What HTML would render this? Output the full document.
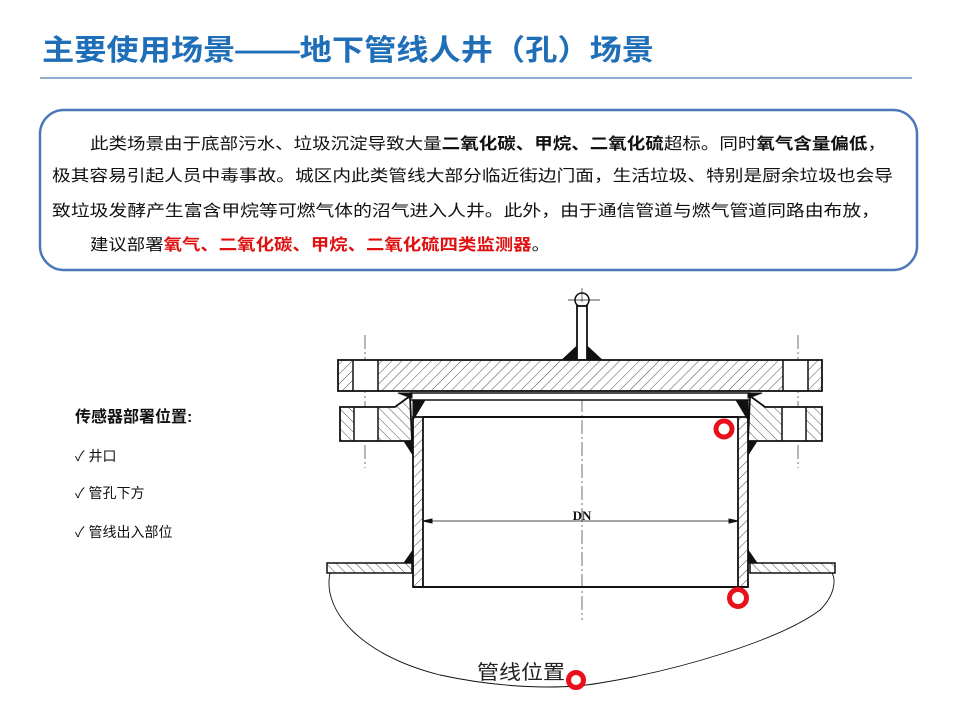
<!DOCTYPE html>
<html><head><meta charset="utf-8"><style>
html,body{margin:0;padding:0;background:#fff;width:960px;height:720px;overflow:hidden}
text{font-family:"Liberation Sans","Noto Sans CJK SC",sans-serif}
</style></head><body>
<svg width="960" height="720" viewBox="0 0 960 720" xmlns="http://www.w3.org/2000/svg">
<defs>
<pattern id="h" width="7" height="7" patternUnits="userSpaceOnUse" patternTransform="rotate(45)">
<rect width="7" height="7" fill="#fff"/><line x1="0" y1="0" x2="0" y2="7" stroke="#222" stroke-width="0.8"/>
</pattern>
<pattern id="h2" width="7" height="7" patternUnits="userSpaceOnUse" patternTransform="rotate(-45)">
<rect width="7" height="7" fill="#fff"/><line x1="0" y1="0" x2="0" y2="7" stroke="#222" stroke-width="0.8"/>
</pattern>
</defs>
<text x="42" y="60" font-size="29" font-weight="bold" fill="#1f6fb8" textLength="612" lengthAdjust="spacingAndGlyphs">主要使用场景——地下管线人井（孔）场景</text>
<line x1="40" y1="78" x2="912" y2="78" stroke="#4a7fb5" stroke-width="1.2"/>
<rect x="40" y="110" width="877" height="160" rx="24" fill="#fff" stroke="#4b78b8" stroke-width="2.5"/>
<g font-size="16" fill="#111">
<text x="90" y="149" textLength="796" lengthAdjust="spacingAndGlyphs">此类场景由于底部污水、垃圾沉淀导致大量<tspan font-weight="bold">二氧化碳、甲烷、二氧化硫</tspan>超标。同时<tspan font-weight="bold">氧气含量偏低</tspan>，</text>
<text x="52" y="181" textLength="841" lengthAdjust="spacingAndGlyphs">极其容易引起人员中毒事故。城区内此类管线大部分临近街边门面，生活垃圾、特别是厨余垃圾也会导</text>
<text x="52" y="216" textLength="828" lengthAdjust="spacingAndGlyphs">致垃圾发酵产生富含甲烷等可燃气体的沼气进入人井。此外，由于通信管道与燃气管道同路由布放，</text>
<text x="90" y="250" textLength="460" lengthAdjust="spacingAndGlyphs">建议部署<tspan font-weight="bold" fill="#e01010">氧气、二氧化碳、甲烷、二氧化硫四类监测器</tspan>。</text>
</g>
<text x="75" y="422" font-size="16" font-weight="bold" fill="#111">传感器部署位置:</text>
<g font-size="14" fill="#111">
<text x="75" y="461">✓ 井口</text>
<text x="75" y="498">✓ 管孔下方</text>
<text x="75" y="537">✓ 管线出入部位</text>
</g>
<g stroke="#111" fill="none">
<line x1="582" y1="288" x2="582" y2="620" stroke-width="0.6" stroke-dasharray="14,3,2,3"/>
<line x1="365" y1="335" x2="365" y2="468" stroke-width="0.6" stroke-dasharray="14,3,2,3"/>
<line x1="798" y1="335" x2="798" y2="468" stroke-width="0.6" stroke-dasharray="14,3,2,3"/>
<circle cx="582" cy="300" r="7" stroke-width="1.5"/>
<line x1="568" y1="300" x2="600" y2="300" stroke-width="0.7"/>
<rect x="577" y="306" width="10" height="54" fill="#fff" stroke-width="1.8"/>
<path d="M562 360 L577 346 L577 360 Z M602 360 L587 346 L587 360Z" fill="#111"/>
<rect x="338" y="360" width="484" height="31" fill="url(#h)" stroke-width="1.8"/>
<rect x="353" y="361" width="25" height="29" fill="#fff" stroke="none"/>
<rect x="783" y="361" width="25" height="29" fill="#fff" stroke="none"/>
<line x1="353" y1="360" x2="353" y2="391" stroke-width="1.5"/><line x1="378" y1="360" x2="378" y2="391" stroke-width="1.5"/>
<line x1="783" y1="360" x2="783" y2="391" stroke-width="1.5"/><line x1="808" y1="360" x2="808" y2="391" stroke-width="1.5"/>
<rect x="410" y="393" width="340" height="7" fill="#fff" stroke-width="1.5"/>
<path d="M398 393 L412 393 L412 398 Z M762 393 L748 393 L748 398Z" fill="#111"/>
<path d="M340 407 L395 407 L410 396 L412 441 L340 441 Z" fill="url(#h2)" stroke-width="1.8"/>
<path d="M822 407 L765 407 L750 396 L748 441 L822 441 Z" fill="url(#h2)" stroke-width="1.8"/>
<rect x="354" y="408" width="24" height="32" fill="#fff" stroke="none"/>
<rect x="782" y="408" width="24" height="32" fill="#fff" stroke="none"/>
<line x1="354" y1="407" x2="354" y2="441" stroke-width="1.5"/><line x1="378" y1="407" x2="378" y2="441" stroke-width="1.5"/>
<line x1="782" y1="407" x2="782" y2="441" stroke-width="1.5"/><line x1="806" y1="407" x2="806" y2="441" stroke-width="1.5"/>
<rect x="413" y="417" width="10" height="170" fill="url(#h)" stroke-width="1.8"/>
<rect x="738" y="417" width="10" height="170" fill="url(#h)" stroke-width="1.8"/>
<line x1="423" y1="417" x2="738" y2="417" stroke-width="2"/>
<line x1="413" y1="587" x2="748" y2="587" stroke-width="2"/>
<path d="M413 400 L413 420 L425 400Z M748 400 L748 420 L736 400Z" fill="#111"/>
<path d="M413 441 L404 441 L413 455Z M748 441 L757 441 L748 455Z M413 550 L404 563 L413 563Z M748 550 L757 563 L748 563Z" fill="#111"/>
<line x1="423" y1="521" x2="738" y2="521" stroke-width="0.8"/>
<path d="M423 521 L432 519 L432 523Z M738 521 L729 519 L729 523Z" fill="#111"/>
<rect x="327" y="563" width="85" height="10" fill="url(#h2)" stroke-width="1.5"/>
<rect x="750" y="563" width="85" height="10" fill="url(#h2)" stroke-width="1.5"/>
<path d="M330 573 C322 610 360 655 440 675 C500 688 560 690 600 683 C680 670 780 640 820 610 C835 595 836 580 832 573" stroke-width="0.9"/>
</g>
<text x="582" y="520" font-size="13" font-weight="bold" text-anchor="middle" fill="#111" style="font-family:'Liberation Serif',serif">DN</text>
<text x="477" y="679" font-size="20" fill="#222" textLength="88" lengthAdjust="spacingAndGlyphs">管线位置</text>
<g fill="none" stroke="#e8101a" stroke-width="5">
<circle cx="724" cy="429" r="8"/>
<circle cx="738" cy="598" r="8.5"/>
<circle cx="576" cy="680" r="7.5"/>
</g>
</svg>
</body></html>
